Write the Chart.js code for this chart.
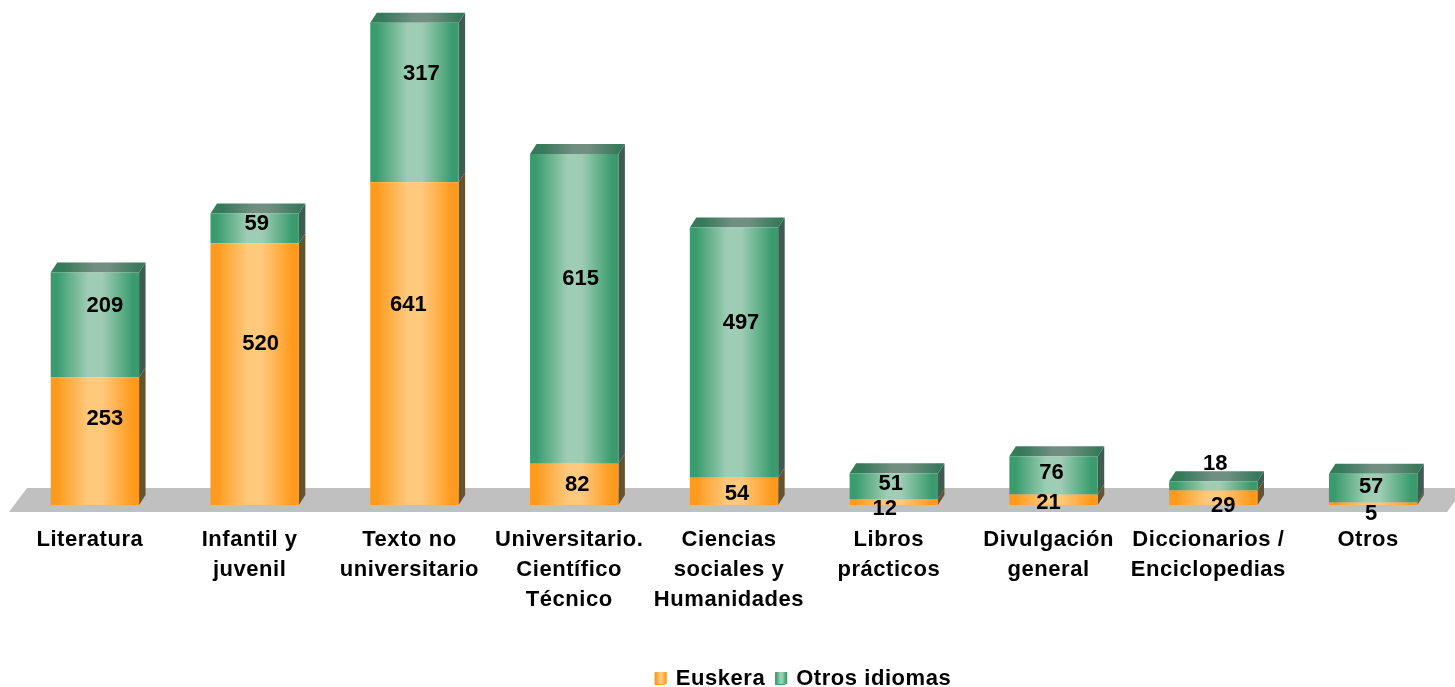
<!DOCTYPE html>
<html><head><meta charset="utf-8">
<style>html,body{margin:0;padding:0;background:#fff;overflow:hidden}#w{width:1455px;height:687px;position:relative}</style>
<script src="https://cdn.jsdelivr.net/npm/chart.js@4"></script>
</head><body><div id="w"><canvas id="c"></canvas></div>
<script>
const categories = [["Literatura"],["Infantil y","juvenil"],["Texto no","universitario"],["Universitario.","Científico","Técnico"],["Ciencias","sociales y","Humanidades"],["Libros","prácticos"],["Divulgación","general"],["Diccionarios /","Enciclopedias"],["Otros"]];
const euskera = [253,520,641,82,54,12,21,29,5];
const otrosIdiomas = [209,59,317,615,497,51,76,18,57];
const seriesNames = ["Euskera","Otros idiomas"];

// hand-placed data label offsets of the original (px)
const nudgeE = [[10,-22],[6,-30],[-6,-39],[3,1],[3,3],[-9,7],[-5,3],[10,8],[-2,10]];
const nudgeO = [[10,-19],[2,-4],[7,-29],[6.5,-30],[7,-30],[-3,-2],[-2,-2],[2,-22],[-2,-1]];

const DX=6.5, DY=-10, BAR=0.553;
const FONT='Liberation Sans';
const pal=[{edge:'#ff9a1c',mid:'#ffc97c',side:'#65532f'},{edge:'#3a9c6e',mid:'#9ecdb3',side:'#3f5c50'}];
const topPal={edge:'#37795b',mid:'#718f81'};

function hGrad(ctx,x0,x1,edge,mid){
  const g=ctx.createLinearGradient(x0,0,x1,0);
  g.addColorStop(0,edge);g.addColorStop(.07,edge);g.addColorStop(.42,mid);g.addColorStop(.58,mid);g.addColorStop(.93,edge);g.addColorStop(1,edge);
  return g;
}
function barFill(ds){return c=>{
  const ch=c.chart;
  if(!ch.chartArea||!ch.scales.x) return pal[ds].edge;
  const w=ch.scales.x.width/categories.length*BAR, cx=ch.scales.x.getPixelForTick(c.dataIndex);
  return hGrad(ch.ctx,cx-w/2,cx+w/2,pal[ds].edge,pal[ds].mid);
};}

const threeD={
  id:'threeD',
  beforeLayout(ch){ch.ctx.letterSpacing='0.55px';},
  beforeDraw(ch){ch.ctx.letterSpacing='0.55px';},
  afterLayout(ch){
    const l=ch.legend; if(!l) return;
    const sx=69, sy=13; l.left+=sx;l.right+=sx;l.top+=sy;l.bottom+=sy;
  },
  beforeDatasetsDraw(ch){
    const c=ch.ctx,a=ch.chartArea;
    const y0=ch.scales.y.getPixelForValue(0);
    c.save();c.fillStyle='#c0c0c0';c.beginPath();
    c.moveTo(a.left-6,y0+7);c.lineTo(a.left+12,y0-17);c.lineTo(a.right+12,y0-17);c.lineTo(a.right-6,y0+7);c.closePath();c.fill();
    [0,1].forEach(d=>{
      ch.getDatasetMeta(d).data.forEach(el=>{
        const p=el.getProps(['x','y','base','width'],true);
        const r=p.x+p.width/2,l=p.x-p.width/2;
        c.fillStyle=pal[d].side;c.beginPath();
        c.moveTo(r,p.base);c.lineTo(r+DX,p.base+DY);c.lineTo(r+DX,p.y+DY);c.lineTo(r,p.y);c.closePath();c.fill();
        if(d===1){
          c.fillStyle=hGrad(c,l+DX,r+DX,topPal.edge,topPal.mid);c.beginPath();
          c.moveTo(l,p.y);c.lineTo(l+DX,p.y+DY);c.lineTo(r+DX,p.y+DY);c.lineTo(r,p.y);c.closePath();c.fill();
        }
      });
    });
    c.restore();
  },
  afterDatasetsDraw(ch){
    const c=ch.ctx;c.save();c.letterSpacing='0px';
    c.font='bold 22px "'+FONT+'"';c.fillStyle='#000';c.textAlign='center';c.textBaseline='middle';
    [[euskera,nudgeE],[otrosIdiomas,nudgeO]].forEach((s,d)=>{
      ch.getDatasetMeta(d).data.forEach((el,i)=>{
        const p=el.getProps(['x','y','base'],true);
        c.fillText(String(s[0][i]),p.x+s[1][i][0],(p.y+p.base)/2+s[1][i][1]);
      });
    });
    c.restore();
  },
  afterDraw(ch){
    const c=ch.ctx,l=ch.legend;if(!l||!l.legendHitBoxes)return;
    l.legendHitBoxes.forEach((b,i)=>{
      const w=12,h=l.options.labels.boxHeight;
      const x=b.left;
      c.save();
      c.fillStyle=hGrad(c,x,x+w,pal[i].edge,pal[i].mid);
      c.fillRect(x,b.top+(b.height-h)/2-1,w,h);
      c.restore();
    });
  }
};

new Chart(document.getElementById('c'),{
  type:'bar',
  data:{labels:categories,datasets:[
    {label:seriesNames[0],data:euskera,backgroundColor:barFill(0),stack:'s',barPercentage:BAR,categoryPercentage:1},
    {label:seriesNames[1],data:otrosIdiomas,backgroundColor:barFill(1),stack:'s',barPercentage:BAR,categoryPercentage:1}
  ]},
  options:{
    responsive:true,maintainAspectRatio:false,animation:false,
    layout:{padding:{left:15,right:2,top:1.5,bottom:0}},
    font:{family:FONT},
    scales:{
      x:{stacked:true,grid:{display:false,drawTicks:false},border:{display:false},
         ticks:{autoSkip:false,maxRotation:0,minRotation:0,padding:20,labelOffset:-5,color:'#000',font:{family:FONT,size:22,weight:'bold',lineHeight:30/22}},
         afterFit(s){s.height=140;}},
      y:{display:false,stacked:true,min:0,max:1000}
    },
    plugins:{
      legend:{position:'bottom',align:'center',labels:{boxWidth:10,boxHeight:12,padding:10,color:'#000',font:{family:FONT,size:22,weight:'bold'}}},
      tooltip:{enabled:false}
    }
  },
  plugins:[threeD]
});
</script></body></html>
